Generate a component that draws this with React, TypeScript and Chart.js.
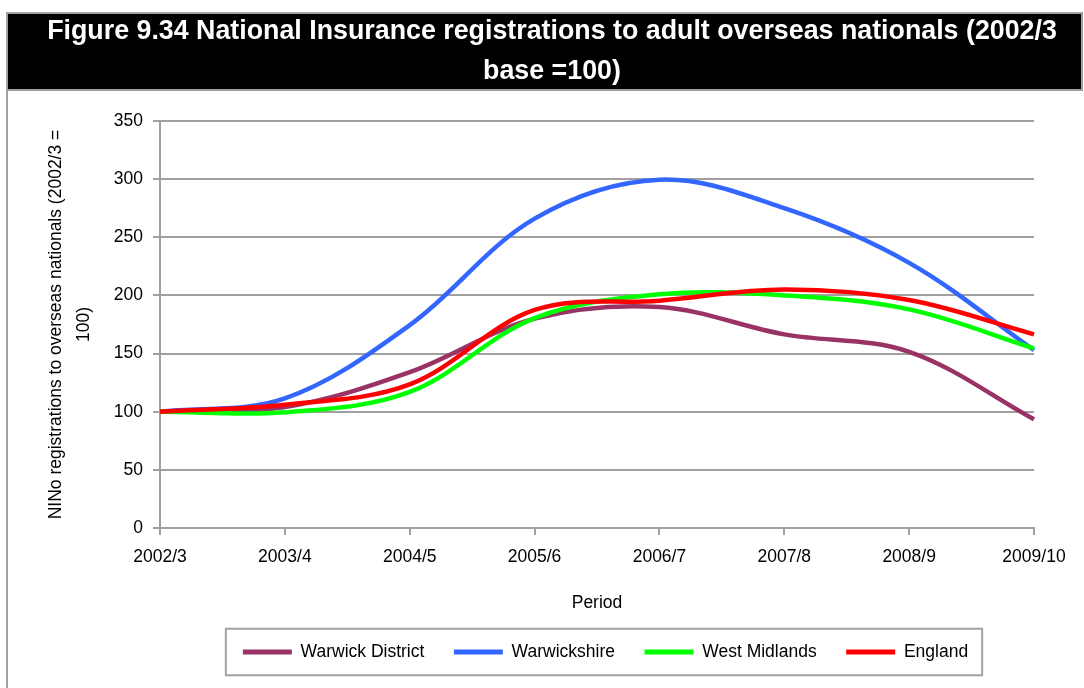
import React, { useEffect, useRef } from "react";
import { Chart, registerables } from "chart.js";

Chart.register(...registerables);

const TITLE_LINES = [
  "Figure 9.34 National Insurance registrations to adult overseas nationals (2002/3",
  "base =100)",
];
const Y_TITLE_LINES = ["NINo registrations to overseas nationals (2002/3 =", "100)"];
const X_TITLE = "Period";

const PERIODS = ["2002/3", "2003/4", "2004/5", "2005/6", "2006/7", "2007/8", "2008/9", "2009/10"];

const WARWICK_DISTRICT = [100, 104, 134, 180, 190, 166.5, 151.5, 93.5];
const WARWICKSHIRE = [100, 111.5, 174.5, 266, 299.5, 275, 228, 153];
const WEST_MIDLANDS = [100, 99.5, 117, 180.5, 201, 200, 188, 154.5];
const ENGLAND = [100, 106, 123.5, 187.5, 195.5, 205, 196, 166.5];

const SERIES_NAMES = ["Warwick District", "Warwickshire", "West Midlands", "England"];
const SERIES_COLORS = ["#993366", "#3366FF", "#00FF00", "#FF0000"];

const Y_MIN = 0;
const Y_MAX = 350;
const Y_STEP = 50;

const FONT = '"Liberation Sans", Arial, sans-serif';
const GRID = "#a0a0a0";

const framePlugin = {
  id: "frame",
  afterLayout(chart: any) {
    if (chart.titleBlock) {
      chart.titleBlock.left += 10;
      chart.titleBlock.right += 10;
    }
    if (chart.legend) {
      chart.legend.left += 8.5;
      chart.legend.right += 8.5;
    }
  },
  beforeDraw(chart: any) {
    const ctx = chart.ctx;
    ctx.save();
    ctx.fillStyle = "#ffffff";
    ctx.fillRect(0, 0, chart.width, chart.height);
    ctx.fillStyle = "#000000";
    ctx.fillRect(7, 13, 1075, 77);
    ctx.strokeStyle = GRID;
    ctx.lineWidth = 2;
    ctx.strokeRect(7, 13, 1075, 77);
    ctx.beginPath();
    ctx.moveTo(7, 90);
    ctx.lineTo(7, chart.height);
    ctx.stroke();
    ctx.restore();
  },
  afterDraw(chart: any) {
    const hb = chart.legend && chart.legend.legendHitBoxes;
    if (!hb || !hb.length) return;
    const first = hb[0];
    const last = hb[hb.length - 1];
    const x0 = first.left - 17;
    const x1 = last.left + last.width + 14;
    const y0 = first.top - 14.5;
    const y1 = first.top + first.height + 14.5;
    const ctx = chart.ctx;
    ctx.save();
    ctx.strokeStyle = GRID;
    ctx.lineWidth = 2;
    ctx.strokeRect(x0, y0, x1 - x0, y1 - y0);
    ctx.restore();
  },
};

export default function App() {
  const ref = useRef<HTMLCanvasElement>(null);

  useEffect(() => {
    const values = [WARWICK_DISTRICT, WARWICKSHIRE, WEST_MIDLANDS, ENGLAND];
    const datasets = SERIES_NAMES.map((name, i) => ({
      label: name,
      data: values[i],
      borderColor: SERIES_COLORS[i],
      backgroundColor: SERIES_COLORS[i],
      borderWidth: 4.5,
      pointRadius: 0,
      pointHoverRadius: 0,
      tension: 0.35,
      fill: false,
      order: SERIES_NAMES.length - 1 - i,
    }));

    const chart = new Chart(ref.current as HTMLCanvasElement, {
      type: "line",
      data: { labels: PERIODS, datasets },
      plugins: [framePlugin],
      options: {
        responsive: false,
        animation: false,
        layout: { padding: { left: 0, right: 0, top: 0, bottom: 17.25 } },
        plugins: {
          title: {
            display: true,
            text: TITLE_LINES,
            color: "#ffffff",
            font: { family: FONT, size: 26.8, weight: "bold", lineHeight: 40 / 26.8 },
            padding: { top: 12, bottom: 29 },
          },
          legend: {
            position: "bottom",
            fullSize: false,
            labels: {
              boxWidth: 49,
              boxHeight: 5,
              padding: 29.5,
              color: "#000000",
              font: { family: FONT, size: 17.5 },
              generateLabels: (c: any) =>
                (Chart.defaults.plugins.legend.labels.generateLabels as any)(c).map((l: any) => ({
                  ...l,
                  fillStyle: l.strokeStyle,
                  lineWidth: 0,
                })),
              sort: (a: any, b: any) => a.datasetIndex - b.datasetIndex,
            },
          },
          tooltip: { enabled: false },
        },
        scales: {
          x: {
            type: "category",
            offset: false,
            grid: {
              drawOnChartArea: false,
              drawTicks: true,
              tickLength: 7,
              color: GRID,
              lineWidth: 2,
            },
            border: { display: true, color: GRID, width: 2 },
            ticks: {
              color: "#000000",
              font: { family: FONT, size: 17.5 },
              padding: 12,
              maxRotation: 0,
              autoSkip: false,
            },
            title: {
              display: true,
              text: X_TITLE,
              color: "#000000",
              font: { family: FONT, size: 17.5, lineHeight: 1.2 },
              padding: { top: 0, bottom: 0 },
            },
            afterFit: (s: any) => {
              s.height = 85.75;
              s.paddingLeft = 0;
              s.paddingRight = 50;
            },
          },
          y: {
            min: Y_MIN,
            max: Y_MAX,
            ticks: {
              stepSize: Y_STEP,
              color: "#000000",
              font: { family: FONT, size: 17.5 },
              padding: 10,
            },
            grid: { color: GRID, lineWidth: 2, tickLength: 7, drawTicks: true },
            border: { display: true, color: GRID, width: 2 },
            title: {
              display: true,
              text: Y_TITLE_LINES,
              color: "#000000",
              font: { family: FONT, size: 17.5, lineHeight: 28 / 17.5 },
              padding: { top: 42, bottom: 0 },
            },
            afterFit: (s: any) => {
              s.width = 160;
              s.paddingTop = 0;
              s.paddingBottom = 0;
            },
          },
        },
      } as any,
    });
    return () => chart.destroy();
  }, []);

  return (
    <canvas
      ref={ref}
      width={1084}
      height={688}
      style={{ position: "fixed", left: 0, top: 0, display: "block" }}
    />
  );
}
